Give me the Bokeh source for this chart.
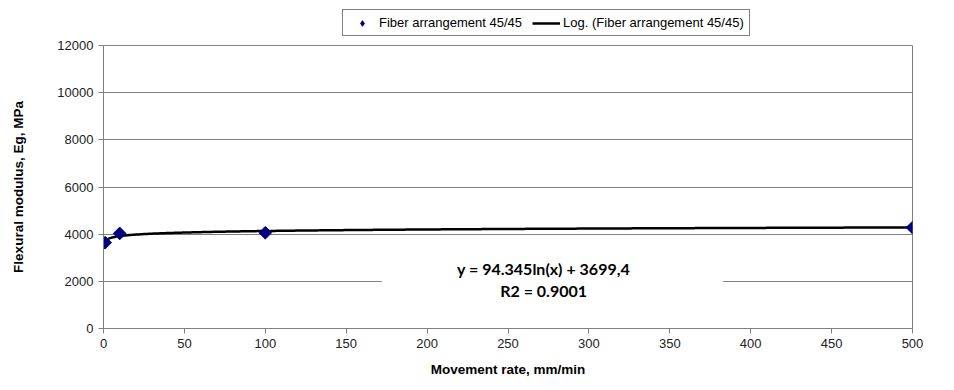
import numpy as np
from bokeh.plotting import figure
from bokeh.layouts import column
from bokeh.models import Legend, LegendItem, BoxAnnotation, Label, Range1d, FixedTicker
from bokeh.embed import file_html
from bokeh.resources import INLINE

# data
rate = [1, 10, 100, 500]
modulus = [3640, 4030, 4060, 4280]
trend_a = 94.345
trend_b = 3699.4
x_ticks = [0, 50, 100, 150, 200, 250, 300, 350, 400, 450, 500]
y_ticks = [0, 2000, 4000, 6000, 8000, 10000, 12000]
eq_lines = ["y = 94.345ln(x) + 3699,4", "R2 = 0.9001"]
series_names = ["Fiber arrangement 45/45", "Log. (Fiber arrangement 45/45)"]

FONT = "Liberation Sans"
NAVY = "#000080"

p = figure(width=938, height=345, output_backend="svg", toolbar_location=None,
           x_range=Range1d(0, 500), y_range=Range1d(0, 12000))
p.min_border_left = 103
p.min_border_right = 26
p.min_border_top = 8
p.min_border_bottom = 54
p.background_fill_color = "white"
p.border_fill_color = "white"
p.outline_line_color = "#808080"
p.outline_line_width = 1

p.xgrid.visible = False
p.ygrid.grid_line_color = "#808080"
p.ygrid.grid_line_width = 1

for ax in (p.xaxis, p.yaxis):
    ax.axis_line_color = "#808080"
    ax.major_tick_line_color = "#808080"
    ax.minor_tick_line_color = None
    ax.major_tick_out = 5
    ax.major_tick_in = 0
    ax.major_label_text_font = FONT
    ax.major_label_text_font_size = "13px"
    ax.major_label_text_color = "#222222"
    ax.axis_label_text_font = FONT
    ax.axis_label_text_font_size = "13.5px"
    ax.axis_label_text_font_style = "bold"
    ax.axis_label_text_color = "black"

p.xaxis.ticker = FixedTicker(ticks=x_ticks)
p.yaxis.ticker = FixedTicker(ticks=y_ticks)
p.xaxis.axis_label = "Movement rate, mm/min"
p.yaxis.axis_label = "Flexural modulus, Eg, MPa"
p.xaxis.axis_label_standoff = 11
p.yaxis.axis_label_standoff = 28

# trend line from the chart's fitted coefficients
tx = np.linspace(rate[0], rate[-1], 500)
ty = trend_a * np.log(tx) + trend_b
p.line(tx, ty, line_color="black", line_width=2.5)
p.scatter(rate, modulus, marker="square", angle=np.pi / 4, size=9,
          fill_color=NAVY, line_color=NAVY)

# equation box
box = BoxAnnotation(left=172, right=383, bottom=1100, top=3000,
                    fill_color="white", fill_alpha=1.0, line_color=None)
p.add_layout(box)
for txt, yv in zip(eq_lines, [2544, 1611]):
    p.add_layout(Label(x=272, y=yv, text=txt, text_align="center", text_baseline="middle",
                       text_font="Lato", text_font_size="16px", text_font_style="bold",
                       text_color="black"))

# legend strip above the chart
lf = figure(width=938, height=37, output_backend="svg", toolbar_location=None,
            x_axis_location=None, y_axis_location=None, min_border=0,
            x_range=Range1d(0, 1), y_range=Range1d(0, 1))
lf.outline_line_color = None
lf.grid.visible = False
lr_pts = lf.scatter([np.nan], [np.nan], marker="diamond", size=10,
                    fill_color=NAVY, line_color=NAVY)
lr_line = lf.line([np.nan, np.nan], [np.nan, np.nan], line_color="black", line_width=2.5)
legend = Legend(items=[LegendItem(label=series_names[0], renderers=[lr_pts]),
                       LegendItem(label=series_names[1], renderers=[lr_line])],
                orientation="horizontal", location=(239, 1))
legend.label_text_font = FONT
legend.label_text_font_size = "13px"
legend.label_text_color = "black"
legend.label_height = 14
legend.border_line_color = "black"
legend.border_line_width = 1
legend.padding = 5
legend.spacing = 10
legend.glyph_width = 28
legend.glyph_height = 14
legend.label_standoff = 3
legend.margin = 0
legend.background_fill_alpha = 1
lf.add_layout(legend, "center")

layout = column(lf, p, spacing=0)
open("out.html", "w").write(file_html(layout, INLINE))
